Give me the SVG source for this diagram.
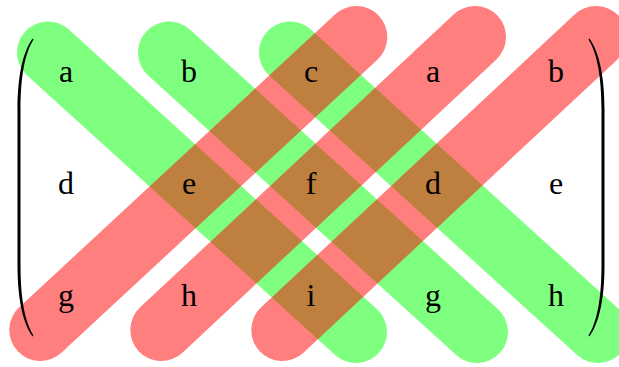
<svg xmlns="http://www.w3.org/2000/svg" width="619" height="367" viewBox="0 0 619 367">
<style>
.g{stroke:#00ff00;stroke-opacity:.5;stroke-width:62;stroke-linecap:round;fill:none}
.r{stroke:#ff0000;stroke-opacity:.5;stroke-width:62;stroke-linecap:round;fill:none}
text{font-family:"Liberation Serif","DejaVu Serif",serif;font-size:32px;text-anchor:middle;fill:#000}
.paren{fill:#000}
</style>
<rect width="619" height="367" fill="#fff"/>
<g id="connectors">
<line class="g" x1="48" y1="52.5" x2="356" y2="332"/>
<line class="g" x1="169" y1="52.5" x2="477" y2="332"/>
<line class="g" x1="290" y1="52.5" x2="598" y2="332"/>
<line class="r" x1="40.3" y1="330" x2="356.3" y2="37"/>
<line class="r" x1="161.3" y1="330" x2="475" y2="37"/>
<line class="r" x1="282.3" y1="330" x2="596" y2="37"/>
</g>
<g id="paren-left"><path class="paren" d="M33.5,39.5 C25,53 20.5,76 20.5,110 L20.5,265 C20.5,299 25,322 33.5,335.5 L32.5,336.5 C23,323 17.5,300 17.5,265 L17.5,110 C17.5,75 23,52 32.5,38.5 Z"/></g>
<g id="paren-right"><path class="paren" d="M588.5,39.5 C597,53 601.5,76 601.5,110 L601.5,265 C601.5,299 597,322 588.5,335.5 L589.5,336.5 C599,323 604.5,300 604.5,265 L604.5,110 C604.5,75 599,52 589.5,38.5 Z"/></g>
<g id="n11"><text x="66" y="82">a</text></g>
<g id="n12"><text x="189" y="82">b</text></g>
<g id="n13"><text x="311" y="82">c</text></g>
<g id="n14"><text x="433" y="82">a</text></g>
<g id="n15"><text x="556" y="82">b</text></g>
<g id="n21"><text x="66" y="194">d</text></g>
<g id="n22"><text x="189" y="194">e</text></g>
<g id="n23"><text x="311" y="194">f</text></g>
<g id="n24"><text x="433" y="194">d</text></g>
<g id="n25"><text x="556" y="194">e</text></g>
<g id="n31"><text x="66" y="306">g</text></g>
<g id="n32"><text x="189" y="306">h</text></g>
<g id="n33"><text x="311" y="306">i</text></g>
<g id="n34"><text x="433" y="306">g</text></g>
<g id="n35"><text x="556" y="306">h</text></g>
</svg>
